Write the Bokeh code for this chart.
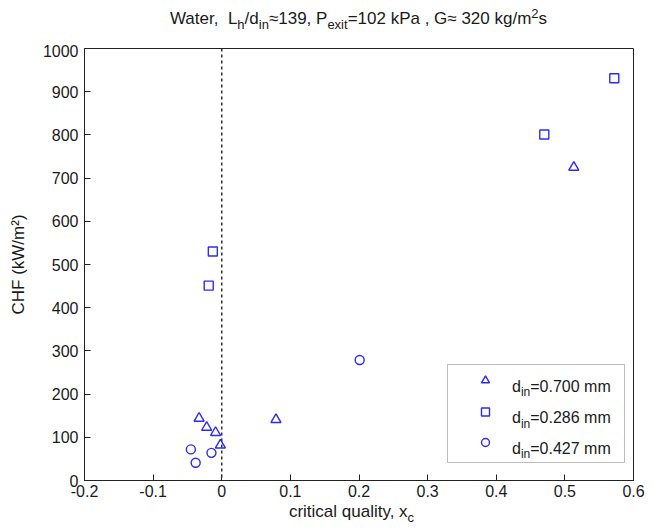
import numpy as np
from bokeh.plotting import figure
from bokeh.layouts import column
from bokeh.models import (Range1d, FixedTicker, CustomJSTickFormatter, Span, BoxAnnotation,
                          Label, Div)
from bokeh.embed import file_html
from bokeh.resources import INLINE

# ---------------- data ----------------
legend_labels = ["0.700 mm", "0.286 mm", "0.427 mm"]
tri_x = [-0.033, -0.022, -0.009, -0.002, 0.079, 0.513]
tri_y = [144, 123, 111, 82, 141, 725]
sq_x = [-0.013, -0.019, 0.470, 0.572]
sq_y = [530, 451, 801, 931]
cir_x = [-0.045, -0.015, -0.038, 0.201]
cir_y = [72, 64, 41, 279]
x_ticks = [-0.2, -0.1, 0, 0.1, 0.2, 0.3, 0.4, 0.5, 0.6]
y_ticks = [0, 100, 200, 300, 400, 500, 600, 700, 800, 900, 1000]

# ---------------- layout ----------------
W, H = 653, 531
TITLE_H = 44
BL, BR, BT, BB = 84, 20, 4, 24
FH = 432
FIG_H = BT + FH + BB
XL_H = H - TITLE_H - FIG_H
FW = W - BL - BR
XMIN, XMAX, YMIN, YMAX = -0.2, 0.6, 0, 1000
FONT = "Liberation Sans"
TXT = "#1a1a1a"
BLUE = "#2a2aff"
FS = 16
SUB = 12
TFS = 17
TSUB = 13


def dx(px):
    return XMIN + (px - BL) / FW * (XMAX - XMIN)


def dy(py):  # py measured from top of the whole page
    return YMAX - (py - TITLE_H - BT) / FH * (YMAX - YMIN)


AW = {' ': 278, ',': 278, '.': 278, '/': 278, '=': 584, '≈': 549, '(': 333, ')': 333,
      'W': 944, 'a': 556, 't': 278, 'e': 556, 'r': 333, 'L': 556, 'h': 556, 'd': 556,
      'i': 222, 'n': 556, 'P': 667, 'x': 500, 'k': 500, 'G': 778, 'g': 556, 'm': 833,
      's': 500, 'c': 500, 'l': 222, 'q': 556, 'u': 556, 'y': 500}
for ch in "0123456789":
    AW[ch] = 556


def tw(text, size):
    return sum(AW.get(c, 556) for c in text) * size / 1000.0


p = figure(width=W, height=FIG_H, output_backend="svg", toolbar_location=None,
           x_range=Range1d(XMIN, XMAX), y_range=Range1d(YMIN, YMAX),
           min_border_left=BL, min_border_right=BR, min_border_top=BT, min_border_bottom=BB,
           title=None)
p.grid.visible = False
p.outline_line_color = "#222222"
p.outline_line_width = 1
p.background_fill_color = "white"
p.border_fill_color = "white"

for ax in (p.xaxis[0], p.yaxis[0]):
    ax.major_tick_in = 6
    ax.major_tick_out = 0
    ax.minor_tick_line_color = None
    ax.axis_line_color = "#222222"
    ax.major_tick_line_color = "#222222"
    ax.major_label_text_font = FONT
    ax.major_label_text_font_size = f"{FS}px"
    ax.major_label_text_color = TXT

p.xaxis.ticker = FixedTicker(ticks=x_ticks)
p.xaxis.formatter = CustomJSTickFormatter(code="return Math.abs(tick) < 1e-9 ? '0' : tick.toFixed(1);")
p.xaxis.major_label_standoff = 4
p.yaxis.ticker = FixedTicker(ticks=y_ticks)
p.yaxis.major_label_standoff = 6
p.yaxis.axis_label = "CHF (kW/m²)"
p.yaxis.axis_label_text_font = FONT
p.yaxis.axis_label_text_font_size = f"{TFS}px"
p.yaxis.axis_label_text_font_style = "normal"
p.yaxis.axis_label_text_color = TXT
p.yaxis.axis_label_standoff = 12

# dashed line at x = 0
p.add_layout(Span(location=0, dimension="height", line_color="#333333",
                  line_dash="3 3", line_width=1.5))

# data
mk = dict(fill_color=None, line_color=BLUE, line_width=1.4)
p.scatter(tri_x, tri_y, marker="triangle", size=10, **mk)
p.scatter(sq_x, sq_y, marker="square", size=9, **mk)
p.scatter(cir_x, cir_y, marker="circle", size=9, **mk)


def run(pieces, x0, base, size, sub):
    x = x0
    for t, k in pieces:
        off, fs = (6, sub) if k == 'sub' else (0, size)
        p.add_layout(Label(x=dx(x), y=dy(base + off), text=t, text_font=FONT,
                           text_font_size=f"{fs}px", text_color=TXT,
                           text_align="left", text_baseline="alphabetic"))
        x += tw(t, fs)


# legend
p.add_layout(BoxAnnotation(left=dx(447), right=dx(624), top=dy(364), bottom=dy(462),
                           fill_color="white", fill_alpha=1.0, line_color="#222222",
                           line_width=1, level="underlay"))
row_py = [380, 411.5, 442]
leg_markers = ["triangle", "square", "circle"]
for i, (lab, m) in enumerate(zip(legend_labels, leg_markers)):
    p.scatter([dx(485)], [dy(row_py[i])], marker=m, size=8, **mk)
    run([("d", 'n'), ("in", 'sub'), ("=" + lab, 'n')], 511.5, row_py[i] + 5.7, FS, SUB)

# title and x label as HTML text (sub/superscripts)
def css(fs):
    return (f"font-family:'{FONT}'; font-size:{fs}px; color:{TXT}; white-space:nowrap; "
            f"width:{FW}px; text-align:center; line-height:16px;")


sub_css = f"font-size:{TSUB}px; vertical-align:-5px; line-height:0;"
sup_css = f"font-size:{TSUB}px; vertical-align:6px; line-height:0;"

title_html = (f'<div style="{css(TFS)} margin-left:{BL}px; padding-top:11px;">'
              f'Water,&nbsp; L<span style="{sub_css}">h</span>/d<span style="{sub_css}">in</span>'
              f'≈139, P<span style="{sub_css}">exit</span>=102 kPa , G≈ 320 kg/m'
              f'<span style="{sup_css}">2</span>s</div>')
xlabel_html = (f'<div style="{css(TFS)} margin-left:{BL - 7}px; padding-top:0px;">'
               f'critical quality, x<span style="{sub_css}">c</span></div>')

title_div = Div(text=title_html, width=W, height=TITLE_H, margin=(0, 0, 0, 0))
xlabel_div = Div(text=xlabel_html, width=W, height=XL_H, margin=(0, 0, 0, 0))

layout = column(title_div, p, xlabel_div, spacing=0)
open("out.html", "w").write(file_html(layout, INLINE))
